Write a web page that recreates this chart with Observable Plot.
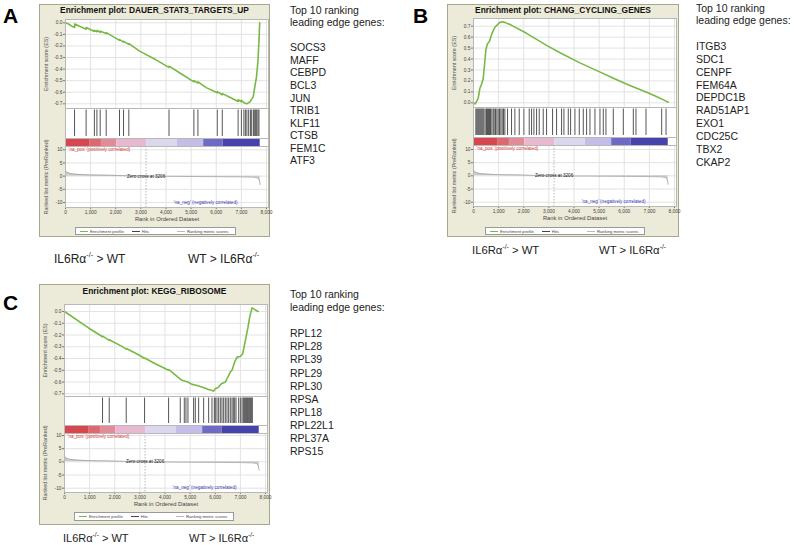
<!DOCTYPE html>
<html><head><meta charset="utf-8">
<script src="https://cdn.jsdelivr.net/npm/d3@7"></script>
<script src="https://cdn.jsdelivr.net/npm/@observablehq/plot@0.6"></script>
<style>
body{margin:0;background:#fff;font-family:"Liberation Sans",Arial,sans-serif;}
#page{position:relative;width:794px;height:545px;overflow:hidden;background:#fff;}
.frame{position:absolute;background:#ecead8;border:1px solid #a9a68e;box-sizing:border-box;}
.ttl{position:absolute;font-weight:bold;font-size:8.4px;color:#111;white-space:nowrap;transform:translate(-50%,-50%);}
.letter{position:absolute;font-weight:bold;font-size:21px;color:#000;line-height:1;}
.genes{position:absolute;font-size:10.5px;color:#222;white-space:nowrap;}
.cap{position:absolute;color:#222;white-space:nowrap;transform:translateY(-50%);}
.cap sup{font-size:0.6em;position:relative;top:-0.15em;}
.legend{position:absolute;background:#fff;border:1px solid #999;box-sizing:border-box;font-family:"Liberation Sans",Arial,sans-serif;font-size:4.2px;color:#444;display:flex;align-items:center;white-space:nowrap;}
.legend .sw{display:inline-block;width:8px;height:0;margin:0 2px 0 4px;}
svg.p{position:absolute;overflow:visible;}
</style></head><body><div id="page"></div>
<script>
// ---------- shared data ----------
const xTicks = [0, 1000, 2000, 3000, 4000, 5000, 6000, 7000, 8000];
const rankedTicks = [-10, -5, 0, 5, 10];
const colorBarBreaks = [0, 960, 1430, 2040, 3230, 4450, 5500, 6270, 7750];
const colorBarColors = ["#d8474f", "#dc6870", "#e18c96", "#e8b8d0", "#dbd8ee", "#c2bee7", "#6e6bc4", "#4643ad"];
const rankedMetricRank  = [0, 20, 60, 150, 300, 600, 1000, 1800, 2500, 3206, 4500, 6000, 7000, 7500, 7660, 7710, 7738, 7750];
const rankedMetricValue = [2.2, 1.9, 1.5, 1.1, 0.8, 0.6, 0.45, 0.3, 0.15, 0, -0.1, -0.2, -0.28, -0.4, -0.7, -1.4, -2.6, -3.2];
const zeroCross = 3206;
const zeroCrossLabel = "Zero cross at 3206";
const posLabel = "'na_pos' (positively correlated)";
const negLabel = "'na_neg' (negatively correlated)";
const esAxisLabel = "Enrichment score (ES)";
const rankedAxisLabel = "Ranked list metric (PreRanked)";
const xAxisLabel = "Rank in Ordered Dataset";
const legendLabels = ["Enrichment profile", "Hits", "Ranking metric scores"];
const genesHeader = ["Top 10 ranking", "leading edge genes:"];

// ---------- panel A ----------
const titleA = "Enrichment plot: DAUER_STAT3_TARGETS_UP";
const esTicksA = [0, -0.1, -0.2, -0.3, -0.4, -0.5, -0.6, -0.7];
const esRankA  = [0, 120, 300, 360, 365, 820, 825, 1150, 1155, 1250, 1255, 1380, 1385, 1620, 1625, 2150, 2155, 2310, 2315, 2520, 2525, 2950, 3600, 4115, 4120, 4600, 5110, 5115, 5270, 5275, 5600, 6040, 6045, 6240, 6245, 6600, 6870, 6875, 7000, 7005, 7100, 7160, 7220, 7290, 7360, 7410, 7470, 7530, 7600, 7660, 7700, 7730];
const esScoreA = [0, -0.01, -0.035, -0.04, -0.01, -0.055, -0.04, -0.075, -0.065, -0.077, -0.067, -0.082, -0.072, -0.092, -0.085, -0.152, -0.145, -0.167, -0.16, -0.187, -0.18, -0.245, -0.32, -0.385, -0.375, -0.44, -0.51, -0.5, -0.52, -0.51, -0.56, -0.605, -0.595, -0.622, -0.612, -0.65, -0.68, -0.665, -0.682, -0.67, -0.69, -0.695, -0.70, -0.69, -0.68, -0.66, -0.64, -0.56, -0.47, -0.33, -0.16, 0.0];
const hitsA = [360, 820, 1150, 1250, 1380, 1620, 2150, 2310, 2520, 4120, 5110, 5270, 6040, 6240, 6870, 7000, 7100, 7160, 7220, 7290, 7360, 7410, 7480, 7530, 7570, 7610, 7660, 7700];
const genesA = ["SOCS3", "MAFF", "CEBPD", "BCL3", "JUN", "TRIB1", "KLF11", "CTSB", "FEM1C", "ATF3"];

// ---------- panel B ----------
const titleB = "Enrichment plot: CHANG_CYCLING_GENES";
const esTicksB = [0, 0.1, 0.2, 0.3, 0.4, 0.5, 0.6, 0.7];
const esRankB  = [0, 60, 93, 186, 252, 320, 385, 440, 491, 530, 558, 600, 651, 700, 784, 850, 916, 1000, 1050, 1150, 1248, 1500, 2112, 2908, 3500, 4236, 5000, 5564, 6200, 6892, 7300, 7623, 7750];
const esScoreB = [0, -0.01, 0, 0.04, 0.13, 0.17, 0.22, 0.35, 0.48, 0.52, 0.54, 0.55, 0.57, 0.61, 0.66, 0.69, 0.705, 0.725, 0.735, 0.74, 0.735, 0.71, 0.635, 0.525, 0.45, 0.365, 0.285, 0.225, 0.16, 0.097, 0.055, 0.02, 0.005];
const hitsB = [93, 133, 173, 212, 252, 292, 332, 372, 412, 465, 518, 558, 598, 637, 677, 730, 784, 823, 876, 930, 983, 1036, 1089, 1142, 1195, 1248, 1355, 1514, 1647, 1820, 2005, 2218, 2311, 2404, 2510, 2616, 2776, 2908, 3147, 3307, 3506, 3599, 3772, 3865, 4037, 4210, 4369, 4502, 4635, 4834, 5033, 5166, 5272, 5564, 5963, 6361, 6467, 6866, 7490, 7663];
const genesB = ["ITGB3", "SDC1", "CENPF", "FEM64A", "DEPDC1B", "RAD51AP1", "EXO1", "CDC25C", "TBX2", "CKAP2"];

// ---------- panel C ----------
const titleC = "Enrichment plot: KEGG_RIBOSOME";
const esTicksC = [0, -0.1, -0.2, -0.3, -0.4, -0.5, -0.6, -0.7];
const esRankC  = [0, 956, 1514, 1520, 1780, 1785, 2284, 2457, 2462, 2948, 3187, 3192, 3612, 4143, 4148, 4276, 4608, 4675, 4914, 5073, 5206, 5471, 5737, 5936, 6003, 6135, 6242, 6401, 6467, 6600, 6667, 6773, 6866, 6999, 7092, 7158, 7225, 7304, 7370, 7463, 7596, 7703];
const esScoreC = [0, -0.14, -0.215, -0.21, -0.245, -0.24, -0.297, -0.32, -0.315, -0.368, -0.40, -0.395, -0.445, -0.50, -0.495, -0.515, -0.575, -0.585, -0.60, -0.62, -0.625, -0.643, -0.663, -0.677, -0.657, -0.643, -0.615, -0.60, -0.572, -0.515, -0.50, -0.43, -0.388, -0.382, -0.36, -0.289, -0.218, -0.133, -0.048, 0.031, 0.014, 0.0];
const hitsC = [1514, 1780, 2457, 3187, 4143, 4608, 4768, 4834, 4914, 5139, 5206, 5339, 5538, 5737, 5870, 5963, 6003, 6069, 6135, 6202, 6268, 6335, 6401, 6467, 6534, 6600, 6667, 6720, 6773, 6826, 6932, 6999, 7065, 7118, 7158, 7198, 7238, 7278, 7317, 7357, 7397, 7437, 7477];
const genesC = ["RPL12", "RPL28", "RPL39", "RPL29", "RPL30", "RPSA", "RPL18", "RPL22L1", "RPL37A", "RPS15"];

// ---------- layout (page pixels) ----------
const panels = [
  {letter: "A", letterPos: [3, 5], frame: {l: 39, t: 4, r: 270, b: 237}, title: titleA, titleY: 10,
   x0: 65, x8000: 266, plotRight: 268,
   es: {top: 19, bottom: 108, v1: 0, y1: 22.3, v2: -0.7, y2: 103.3, ticks: esTicksA, rank: esRankA, score: esScoreA},
   hits: {top: 108, bottom: 138, list: hitsA}, barBottom: 146,
   ranked: {top: 146, bottom: 207, y1: 149.3, y2: 202},
   legend: {l: 75, t: 227, r: 236, b: 235},
   genes: {x: 290, y0: 10, lh: 12.55, list: genesA},
   caps: {y: 258, size: 12, left: 54, right: 188}},
  {letter: "B", letterPos: [413, 5], frame: {l: 447, t: 4, r: 679, b: 237}, title: titleB, titleY: 10,
   x0: 473, x8000: 674, plotRight: 676,
   es: {top: 18, bottom: 107, v1: 0, y1: 102.3, v2: 0.7, y2: 25.7, ticks: esTicksB, rank: esRankB, score: esScoreB},
   hits: {top: 107, bottom: 137, list: hitsB}, barBottom: 145,
   ranked: {top: 145, bottom: 206, y1: 149, y2: 201.7},
   legend: {l: 485, t: 227, r: 645, b: 235},
   genes: {x: 696, y0: 8, lh: 12.85, list: genesB},
   caps: {y: 250, size: 11.3, left: 472, right: 599}},
  {letter: "C", letterPos: [3, 292], frame: {l: 39, t: 284, r: 270, b: 525}, title: titleC, titleY: 291,
   x0: 64, x8000: 265, plotRight: 267,
   es: {top: 304, bottom: 396, v1: 0, y1: 311, v2: -0.7, y2: 393.3, ticks: esTicksC, rank: esRankC, score: esScoreC},
   hits: {top: 396, bottom: 425, list: hitsC}, barBottom: 433,
   ranked: {top: 433, bottom: 492, y1: 435, y2: 487.7},
   legend: {l: 74, t: 512, r: 234, b: 521},
   genes: {x: 290, y0: 294.5, lh: 13.1, list: genesC},
   caps: {y: 538, size: 11, left: 63, right: 189}}
];

const page = document.getElementById("page");
function el(tag, cls, css, html) {
  const e = document.createElement(tag);
  if (cls) e.className = cls;
  Object.assign(e.style, css || {});
  if (html != null) e.innerHTML = html;
  page.appendChild(e);
  return e;
}
function place(svg, left, top) {
  svg.classList.add("p");
  svg.style.left = left + "px";
  svg.style.top = top + "px";
  svg.style.background = "none";
  svg.style.maxWidth = "none";
  page.appendChild(svg);
}
function domainFrom(top, bottom, v1, y1, v2, y2) {
  const k = (v2 - v1) / (y2 - y1);
  return [v1 + (bottom - y1) * k, v1 + (top - y1) * k];
}
const font = "Liberation Sans, Arial, sans-serif";
const segs = colorBarColors.map((c, i) => ({x1: colorBarBreaks[i], x2: colorBarBreaks[i + 1], color: c}));
const ranked = rankedMetricRank.map((r, i) => ({rank: r, value: rankedMetricValue[i]}));
const gridColor = "#e3e3e3";
const borderColor = "#b8b8b8";

for (const p of panels) {
  const F = p.frame, W = F.r - F.l;
  el("div", "frame", {left: F.l + "px", top: F.t + "px", width: W + "px", height: (F.b - F.t) + "px"});
  el("div", "ttl", {left: ((F.l + F.r) / 2) + "px", top: p.titleY + "px"}, p.title);
  el("div", "letter", {left: p.letterPos[0] + "px", top: p.letterPos[1] + "px"}, p.letter);

  const mL = p.x0 - F.l, mR = F.r - p.plotRight;
  const xDomain = [0, 8000 * (p.plotRight - p.x0) / (p.x8000 - p.x0)];
  const common = {width: W, marginLeft: mL, marginRight: mR, marginTop: 0,
    style: {fontFamily: font, background: "none"}};

  // Enrichment score plot
  const es = p.es;
  const esData = es.rank.map((r, i) => ({rank: r, es: es.score[i]}));
  place(Plot.plot({...common, height: es.bottom - es.top, marginBottom: 0,
    x: {domain: xDomain, axis: null},
    y: {domain: domainFrom(es.top, es.bottom, es.v1, es.y1, es.v2, es.y2), axis: null},
    marks: [
      Plot.frame({fill: "white", stroke: null}),
      Plot.gridX(xTicks, {stroke: gridColor, strokeOpacity: 1}),
      Plot.gridY(es.ticks, {stroke: gridColor, strokeOpacity: 1}),
      Plot.axisY(es.ticks, {tickFormat: d => d.toFixed(1), tickSize: 2, tickPadding: 1, fontSize: 4.8, stroke: "#777", fill: "#444", label: null}),
      Plot.line(esData, {x: "rank", y: "es", stroke: "#78b944", strokeWidth: 1.6}),
      Plot.frame({stroke: borderColor}),
      Plot.text([esAxisLabel], {frameAnchor: "left", dx: -19, rotate: -90, textAnchor: "middle", lineAnchor: "middle", fontSize: 5.4, fill: "#555"})
    ]}), F.l, es.top);

  // Hits + colour bar
  const hH = p.hits.bottom - p.hits.top, bH = p.barBottom - p.hits.bottom;
  place(Plot.plot({...common, height: hH + bH, marginBottom: 0,
    x: {domain: xDomain, axis: null},
    y: {domain: [0, hH + bH], axis: null},
    color: {type: "identity"},
    marks: [
      Plot.frame({fill: "white", stroke: null}),
      Plot.ruleX(p.hits.list, {x: d => d, y1: bH + 2, y2: bH + hH - 1.5, stroke: "#2a2a2a", strokeWidth: 0.8}),
      Plot.rect(segs, {x1: "x1", x2: "x2", y1: 0, y2: bH, fill: "color"}),
      Plot.ruleY([bH], {stroke: borderColor}),
      Plot.frame({stroke: borderColor})
    ]}), F.l, p.hits.top);

  // Ranked list metric
  const R = p.ranked;
  const mB = 17;
  place(Plot.plot({...common, height: R.bottom - R.top + mB, marginBottom: mB,
    x: {domain: xDomain, axis: null},
    y: {domain: domainFrom(R.top, R.bottom, 10, R.y1, -10, R.y2), axis: null},
    marks: [
      Plot.frame({fill: "white", stroke: null}),
      Plot.gridX(xTicks, {stroke: gridColor, strokeOpacity: 1}),
      Plot.gridY(rankedTicks, {stroke: gridColor, strokeOpacity: 1}),
      Plot.ruleX([zeroCross], {stroke: "#9a9a9a", strokeDasharray: "1.5,1.5", strokeWidth: 0.7}),
      Plot.areaY(ranked, {x: "rank", y: "value", fill: "#cdcdcd"}),
      Plot.line(ranked, {x: "rank", y: "value", stroke: "#9a9a9a", strokeWidth: 0.7}),
      Plot.axisY(rankedTicks, {tickFormat: d => String(d), tickSize: 2, tickPadding: 1, fontSize: 4.8, stroke: "#777", fill: "#444", label: null}),
      Plot.axisX(xTicks, {tickFormat: d => d3.format(",")(d), tickSize: 2, tickPadding: 1, fontSize: 4.8, stroke: "#777", fill: "#444", label: null}),
      Plot.text([xAxisLabel], {frameAnchor: "bottom", dy: 12, lineAnchor: "middle", fontSize: 5.8, fill: "#444"}),
      Plot.text([rankedAxisLabel], {frameAnchor: "left", dx: -19, rotate: -90, textAnchor: "middle", lineAnchor: "middle", fontSize: 5.4, fill: "#555"}),
      Plot.text([posLabel], {frameAnchor: "top-left", dx: 3, dy: 3, textAnchor: "start", lineAnchor: "middle", fontSize: 4.6, fill: "#d23a3a"}),
      Plot.text([negLabel], {frameAnchor: "bottom-right", dx: -31, dy: -5, textAnchor: "end", lineAnchor: "middle", fontSize: 4.6, fill: "#3a3ab4"}),
      Plot.text([{x: zeroCross, y: 0, t: zeroCrossLabel}], {x: "x", y: "y", text: "t", lineAnchor: "middle", fontSize: 4.6, fill: "#222"}),
      Plot.frame({stroke: borderColor})
    ]}), F.l, R.top);

  // legend
  const L = p.legend;
  el("div", "legend", {left: L.l + "px", top: L.t + "px", width: (L.r - L.l) + "px", height: (L.b - L.t) + "px"},
    `<span class="sw" style="border-top:1.3px solid #78b944"></span>${legendLabels[0]}` +
    `<span class="sw" style="border-top:1px solid #444;margin-left:8px"></span>${legendLabels[1]}` +
    `<span class="sw" style="border-top:1px solid #bbb;margin-left:28px"></span>${legendLabels[2]}`);

  // gene list
  const G = p.genes;
  el("div", "genes", {left: G.x + "px", top: (G.y0 - G.lh / 2) + "px", lineHeight: G.lh + "px"},
    [...genesHeader, "&nbsp;", ...G.list].join("<br>"));

  // captions
  const C = p.caps;
  el("div", "cap", {left: C.left + "px", top: C.y + "px", fontSize: C.size + "px"}, "IL6R&alpha;<sup>-/-</sup> &gt; WT");
  el("div", "cap", {left: C.right + "px", top: C.y + "px", fontSize: C.size + "px"}, "WT &gt; IL6R&alpha;<sup>-/-</sup>");
}
</script></body></html>
